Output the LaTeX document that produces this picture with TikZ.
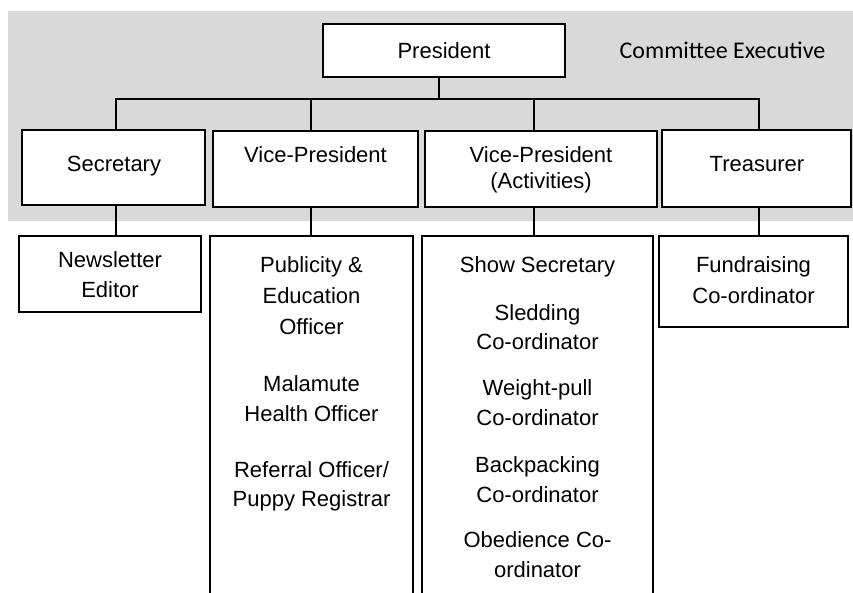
\documentclass[tikz,border=0pt]{standalone}
\usepackage{fontspec}
\setmainfont{Liberation Sans}
\newfontfamily\calfont{Carlito}
\definecolor{bggrey}{RGB}{217,217,217}
\begin{document}
\begin{tikzpicture}[x=1pt,y=-1pt,
  box/.style={draw, line width=1.2pt, fill=white, inner sep=0pt},
  conn/.style={line width=1.2pt},
  txt/.style={anchor=base, inner sep=0pt, font=\fontsize{22}{26}\selectfont},
  ]
\useasboundingbox (0,0) rectangle (853,593);
\clip (0,0) rectangle (853,593);
\fill[bggrey] (8,11) rectangle (853,221);

% top level
\node[box, minimum width=242pt, minimum height=53pt] (pres) at (444,50.5) {};
\node[txt] (presT) at (444,59) {President};
\node[anchor=base, inner sep=0pt, font=\calfont\fontsize{24}{28}\selectfont] (ce) at (722.5,59) {Committee Executive};

% connector coordinates
\coordinate (bus) at (439,99);
\coordinate (d1) at (116,99);
\coordinate (d2) at (311,99);
\coordinate (d3) at (534,99);
\coordinate (d4) at (759,99);

% second level boxes
\node[box, minimum width=183pt, minimum height=75pt] (sec) at (113.5,167.5) {};
\node[box, minimum width=205pt, minimum height=76pt] (vp) at (315.5,169) {};
\node[box, minimum width=232pt, minimum height=76pt] (vpa) at (541,169) {};
\node[box, minimum width=189pt, minimum height=77pt] (tre) at (756.5,168.5) {};

% third level boxes
\node[box, minimum width=182pt, minimum height=76pt] (news) at (110,274) {};
\node[box, minimum width=203pt, minimum height=400pt] (pub) at (311.5,436) {};
\node[box, minimum width=231pt, minimum height=400pt] (act) at (537.5,436) {};
\node[box, minimum width=189pt, minimum height=91pt] (fund) at (753.5,281.5) {};

% connectors
\draw[conn] (pres.south -| bus) -- (bus);
\draw[conn, line join=miter] (d1 |- sec.north) -- (d1) -- (d4) -- (d4 |- tre.north);
\draw[conn] (d2) -- (d2 |- vp.north);
\draw[conn] (d3) -- (d3 |- vpa.north);
\draw[conn] (d1 |- sec.south) -- (d1 |- news.north);
\draw[conn] (d2 |- vp.south) -- (d2 |- pub.north);
\draw[conn] (d3 |- vpa.south) -- (d3 |- act.north);
\draw[conn] (d4 |- tre.south) -- (d4 |- fund.north);

% second level text
\node[txt] (secT) at (114,172) {Secretary};
\node[txt] (vpT) at (315.5,163) {Vice-President};
\node[txt] (vpaT1) at (541,163) {Vice-President};
\node[txt] (vpaT2) at (541,189) {(Activities)};
\node[txt] (treT) at (757,172) {Treasurer};

% third level text
\node[txt] (newsT1) at (110,268) {Newsletter};
\node[txt] (newsT2) at (110,298) {Editor};

\node[txt] (pubT1) at (311.5,273) {Publicity \&};
\node[txt] (pubT2) at (311.5,303) {Education};
\node[txt] (pubT3) at (311.5,334) {Officer};
\node[txt] (pubT4) at (311.5,391) {Malamute};
\node[txt] (pubT5) at (311.5,421) {Health Officer};
\node[txt] (pubT6) at (311.5,477) {Referral Officer/};
\node[txt] (pubT7) at (311.5,506) {Puppy Registrar};

\node[txt] (actT1) at (537.5,273) {Show Secretary};
\node[txt] (actT2) at (537.5,320) {Sledding};
\node[txt] (actT3) at (537.5,349) {Co-ordinator};
\node[txt] (actT4) at (537.5,395) {Weight-pull};
\node[txt] (actT5) at (537.5,425) {Co-ordinator};
\node[txt] (actT6) at (537.5,472) {Backpacking};
\node[txt] (actT7) at (537.5,502) {Co-ordinator};
\node[txt] (actT8) at (537.5,547) {Obedience Co-};
\node[txt] (actT9) at (537.5,577) {ordinator};

\node[txt] (fundT1) at (753.5,273) {Fundraising};
\node[txt] (fundT2) at (753.5,303) {Co-ordinator};
\end{tikzpicture}
\end{document}
